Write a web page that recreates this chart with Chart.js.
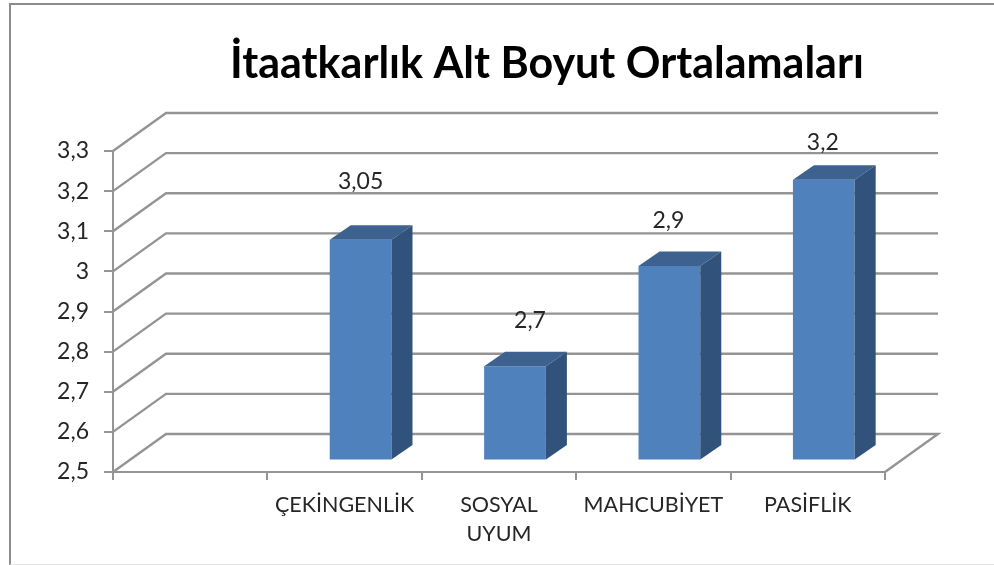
<!DOCTYPE html>
<html lang="tr">
<head>
<meta charset="utf-8">
<title>İtaatkarlık Alt Boyut Ortalamaları</title>
<script src="https://cdn.jsdelivr.net/npm/chart.js@4"></script>
<style>
  html, body { margin: 0; padding: 0; background: #fff; overflow: hidden; }
  #frame { position: absolute; left: 9px; top: 3px; width: 985px; height: 562px; box-sizing: border-box;
           border-top: 2px solid #8c8c8c; border-left: 2px solid #8c8c8c; border-bottom: 1px solid #e4e4e4; }
</style>
</head>
<body>
<div id="frame"></div>
<canvas id="chart" width="994" height="565" style="display:block;position:absolute;left:0;top:0"></canvas>
<script>
const chartTitle = "İtaatkarlık Alt Boyut Ortalamaları";
const categories = ["", "ÇEKİNGENLİK", ["SOSYAL", "UYUM"], "MAHCUBİYET", "PASİFLİK"];
const barValues = [null, 3.05, 2.735, 2.985, 3.2];
const barLabels = ["", "3,05", "2,7", "2,9", "3,2"];
const yTickLabels = ["2,5", "2,6", "2,7", "2,8", "2,9", "3", "3,1", "3,2", "3,3"];

// pseudo 3D depth of the wall and of the bars
const wallDepth = { x: 53, y: -38 };
const barDepth = { x: 21, y: -14.5 };
const barShift = { x: 16, y: -11.5 };
// where the data labels sit relative to the top of the bar front
const labelNudge = [null, [0, -58], [15, -46], [-1, -45], [-1, -37]];

const fontFamily = "Lato, 'Open Sans', sans-serif";
const lineColor = "#949494";

const fake3d = {
  id: "fake3d",
  beforeDatasetsDraw(chart) {
    const { ctx, scales: { x, y } } = chart;
    ctx.save();
    ctx.strokeStyle = lineColor;
    ctx.lineWidth = 2.4;
    y.ticks.forEach(t => {
      const py = y.getPixelForValue(t.value);
      ctx.beginPath();
      ctx.moveTo(x.left, py);
      ctx.lineTo(x.left + wallDepth.x, py + wallDepth.y);
      ctx.lineTo(x.right + wallDepth.x, py + wallDepth.y);
      if (t.value === y.min) ctx.lineTo(x.right, py);
      ctx.stroke();
    });
    ctx.restore();
  },
  beforeDatasetDraw(chart) {
    chart.ctx.save();
    chart.ctx.translate(barShift.x, barShift.y);
  },
  afterDatasetDraw(chart, args) {
    const ctx = chart.ctx;
    args.meta.data.forEach((bar, i) => {
      if (barValues[i] === null) return;
      const left = bar.x - bar.width / 2;
      const right = bar.x + bar.width / 2;
      // top face
      ctx.fillStyle = "#3d6290";
      ctx.beginPath();
      ctx.moveTo(left, bar.y);
      ctx.lineTo(left + barDepth.x, bar.y + barDepth.y);
      ctx.lineTo(right + barDepth.x, bar.y + barDepth.y);
      ctx.lineTo(right, bar.y);
      ctx.closePath();
      ctx.fill();
      // side face
      ctx.fillStyle = "#31527a";
      ctx.beginPath();
      ctx.moveTo(right, bar.y);
      ctx.lineTo(right + barDepth.x, bar.y + barDepth.y);
      ctx.lineTo(right + barDepth.x, bar.base + barDepth.y);
      ctx.lineTo(right, bar.base);
      ctx.closePath();
      ctx.fill();
    });
    ctx.restore();
  },
  afterDatasetsDraw(chart) {
    const ctx = chart.ctx;
    const bars = chart.getDatasetMeta(0).data;
    ctx.save();
    ctx.textAlign = "center";
    ctx.textBaseline = "middle";
    ctx.fillStyle = "#262626";
    ctx.font = "23px " + fontFamily;
    bars.forEach((bar, i) => {
      if (barValues[i] === null) return;
      ctx.fillText(barLabels[i], bar.x + barShift.x + labelNudge[i][0], bar.y + barShift.y + labelNudge[i][1]);
    });
    ctx.fillStyle = "#000";
    ctx.font = "bold 43px " + fontFamily;
    ctx.fillText(chartTitle, 547, 64);
    ctx.restore();
  }
};

new Chart(document.getElementById("chart").getContext("2d"), {
  type: "bar",
  data: {
    labels: categories,
    datasets: [{
      data: barValues,
      base: 2.5,
      backgroundColor: "#4f81bd",
      barPercentage: 0.4,
      categoryPercentage: 1,
      clip: false
    }]
  },
  plugins: [fake3d],
  options: {
    responsive: false,
    animation: false,
    layout: { padding: { top: 151, right: 109, bottom: 0, left: 0 } },
    plugins: { legend: { display: false }, tooltip: { enabled: false } },
    scales: {
      x: {
        afterFit: s => { s.height = 93; },
        grid: { drawOnChartArea: false, color: lineColor, lineWidth: 2, tickLength: 8 },
        border: { color: lineColor, width: 2 },
        ticks: {
          color: "#262626",
          font: { family: fontFamily, size: 21.5, lineHeight: 1.36 },
          padding: 10,
          maxRotation: 0,
          autoSkip: false
        }
      },
      y: {
        min: 2.5,
        max: 3.3,
        afterFit: s => { s.width = 113; },
        grid: { drawOnChartArea: false, color: lineColor, lineWidth: 2, tickLength: 9 },
        border: { color: lineColor, width: 2 },
        ticks: {
          stepSize: 0.1,
          color: "#262626",
          font: { family: fontFamily, size: 23 },
          padding: 15,
          callback: (v, i) => yTickLabels[i]
        }
      }
    }
  }
});
</script>
</body>
</html>
